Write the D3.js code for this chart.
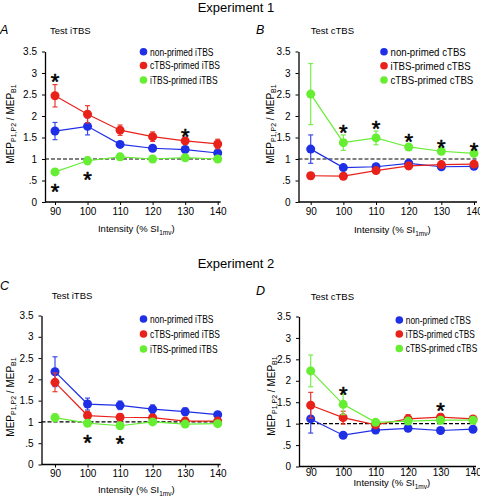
<!DOCTYPE html>
<html>
<head>
<meta charset="utf-8">
<script src="https://cdn.jsdelivr.net/npm/d3@7"></script>
<style>
  html, body { margin: 0; padding: 0; background: #fff; }
  svg { display: block; }
  text { font-family: "Liberation Sans", Arial, Helvetica, sans-serif; fill: #000; }
</style>
</head>
<body>
<svg id="chart" width="480" height="497"></svg>
<script>
// ---------------- DATA ----------------
const intensities = [90, 100, 110, 120, 130, 140];
const yTickValues = [0, 0.5, 1, 1.5, 2, 2.5, 3, 3.5];
const yTickLabels = ["0", ".5", "1", "1.5", "2", "2.5", "3", "3.5"];
const experimentTitles = ["Experiment 1", "Experiment 2"];
const panelLetters = ["A", "B", "C", "D"];
const panelSubtitles = ["Test iTBS", "Test cTBS", "Test iTBS", "Test cTBS"];
const legendITBS = ["non-primed iTBS", "cTBS-primed iTBS", "iTBS-primed iTBS"];
const legendCTBS = ["non-primed cTBS", "iTBS-primed cTBS", "cTBS-primed cTBS"];

// Panel A (Experiment 1, test iTBS)
const A_nonPrimed = [1.65, 1.76, 1.34, 1.25, 1.22, 1.14];
const A_nonPrimedErr = [0.20, 0.20, 0.05, 0.05, 0.05, 0.05];
const A_cPrimed = [2.47, 2.04, 1.67, 1.52, 1.42, 1.35];
const A_cPrimedErr = [0.26, 0.20, 0.12, 0.11, 0.08, 0.11];
const A_iPrimed = [0.70, 0.96, 1.05, 1.00, 1.03, 1.00];
const A_iPrimedErr = [0.07, 0.09, 0.08, 0.08, 0.07, 0.05];
const A_stars = [[90, 2.92], [90, 0.36], [100, 0.65], [130, 1.65]];

// Panel B (Experiment 1, test cTBS)
const B_nonPrimed = [1.23, 0.80, 0.82, 0.90, 0.82, 0.83];
const B_nonPrimedErr = [0.33, 0.03, 0.03, 0.04, 0.03, 0.03];
const B_iPrimed = [0.61, 0.60, 0.73, 0.84, 0.87, 0.88];
const B_iPrimedErr = [0.07, 0.06, 0.05, 0.08, 0.05, 0.04];
const B_cPrimed = [2.51, 1.38, 1.49, 1.28, 1.18, 1.13];
const B_cPrimedErr = [0.71, 0.18, 0.16, 0.05, 0.04, 0.03];
const B_stars = [[100, 1.73], [110, 1.83], [120, 1.53], [130, 1.38], [140, 1.32]];

// Panel C (Experiment 2, test iTBS)
const C_nonPrimed = [2.18, 1.42, 1.39, 1.30, 1.24, 1.17];
const C_nonPrimedErr = [0.35, 0.14, 0.10, 0.10, 0.09, 0.06];
const C_cPrimed = [1.93, 1.15, 1.11, 1.10, 1.02, 1.02];
const C_cPrimedErr = [0.22, 0.10, 0.08, 0.05, 0.03, 0.03];
const C_iPrimed = [1.10, 0.97, 0.91, 1.00, 0.95, 0.96];
const C_iPrimedErr = [0.09, 0.04, 0.04, 0.03, 0.03, 0.03];
const C_stars = [[100, 0.64], [110, 0.60]];

// Panel D (Experiment 2, test cTBS)
const D_nonPrimed = [1.11, 0.73, 0.85, 0.89, 0.84, 0.87];
const D_nonPrimedErr = [0.33, 0.03, 0.08, 0.04, 0.03, 0.03];
const D_iPrimed = [1.43, 1.14, 0.97, 1.11, 1.15, 1.11];
const D_iPrimedErr = [0.30, 0.15, 0.05, 0.10, 0.08, 0.04];
const D_cPrimed = [2.23, 1.45, 1.03, 1.06, 1.08, 1.08];
const D_cPrimedErr = [0.37, 0.24, 0.03, 0.05, 0.04, 0.03];
const D_stars = [[100, 1.80], [130, 1.42]];

// ---------------- STYLE / LAYOUT ----------------
const COLORS = ["#1f2fe6", "#e8221a", "#66ee33"];
const ERR_COLORS = ["#3a4ae8", "#ec3a30", "#77ee4a"];
const FONT = 10;

const panels = [
  { letter: panelLetters[0], sub: panelSubtitles[0], legend: legendITBS,
    series: [[A_nonPrimed, A_nonPrimedErr], [A_cPrimed, A_cPrimedErr], [A_iPrimed, A_iPrimedErr]], stars: A_stars,
    axisX: 45, x90: 55, x140: 217.7, y0: 202, y35: 51.5,
    letterPos: [0, 34], subPos: [50, 34], legX: 143.5, legY: [51.7, 65.5, 80], legSx: 0.77,
    ylabX: 13.5, ylabY: 124, xlabY: 232, xtickY: 215 },
  { letter: panelLetters[1], sub: panelSubtitles[1], legend: legendCTBS,
    series: [[B_nonPrimed, B_nonPrimedErr], [B_iPrimed, B_iPrimedErr], [B_cPrimed, B_cPrimedErr]], stars: B_stars,
    axisX: 298.5, x90: 310.7, x140: 474, y0: 202, y35: 51.5,
    letterPos: [256, 34], subPos: [310.7, 34], legX: 384, legY: [51.7, 65.7, 80], legSx: 0.88,
    ylabX: 273.5, ylabY: 124, xlabY: 233, xtickY: 215 },
  { letter: panelLetters[2], sub: panelSubtitles[2], legend: legendITBS,
    series: [[C_nonPrimed, C_nonPrimedErr], [C_cPrimed, C_cPrimedErr], [C_iPrimed, C_iPrimedErr]], stars: C_stars,
    axisX: 41.5, x90: 55, x140: 217.7, y0: 464.5, y35: 315.5,
    letterPos: [0, 290], subPos: [51.7, 299], legX: 143.5, legY: [319, 334, 349], legSx: 0.77,
    ylabX: 13.5, ylabY: 397, xlabY: 493, xtickY: 477 },
  { letter: panelLetters[3], sub: panelSubtitles[3], legend: legendCTBS,
    series: [[D_nonPrimed, D_nonPrimedErr], [D_iPrimed, D_iPrimedErr], [D_cPrimed, D_cPrimedErr]], stars: D_stars,
    axisX: 299, x90: 310.7, x140: 473, y0: 466.5, y35: 316.5,
    letterPos: [256, 295], subPos: [310.7, 300], legX: 399.3, legY: [320, 334, 348.5], legSx: 0.76,
    ylabX: 274.5, ylabY: 396, xlabY: 486, xtickY: 476 }
];

const svg = d3.select("#chart");

// Experiment titles
svg.append("text").attr("x", 236).attr("y", 12).attr("text-anchor", "middle")
  .attr("font-size", 13).text(experimentTitles[0]);
svg.append("text").attr("x", 236).attr("y", 268).attr("text-anchor", "middle")
  .attr("font-size", 13).text(experimentTitles[1]);

panels.forEach(p => {
  const g = svg.append("g");
  const x = d3.scaleLinear().domain([90, 140]).range([p.x90, p.x140]);
  const y = d3.scaleLinear().domain([0, 3.5]).range([p.y0, p.y35]);
  const axisRight = x(140) + 3;

  // Panel letter & subtitle
  g.append("text").attr("x", p.letterPos[0]).attr("y", p.letterPos[1])
    .attr("font-size", 12.5).attr("font-style", "italic").text(p.letter);
  g.append("text").attr("x", p.subPos[0]).attr("y", p.subPos[1])
    .attr("font-size", 9.5).text(p.sub);

  // Y axis
  const yAxis = d3.axisLeft(y).tickValues(yTickValues)
    .tickFormat((d, i) => yTickLabels[i]).tickSize(3).tickSizeOuter(0).tickPadding(5);
  const ya = g.append("g").attr("transform", `translate(${p.axisX},0)`).call(yAxis);
  ya.select(".domain").attr("stroke", "#000").attr("stroke-width", 1.3);
  ya.selectAll(".tick line").attr("stroke", "#000").attr("stroke-width", 1);
  ya.selectAll(".tick text").attr("font-size", FONT).attr("font-family", null);

  // X axis
  const xAxis = d3.axisBottom(x).tickValues(intensities).tickSize(3).tickSizeOuter(0).tickPadding(4);
  const xa = g.append("g").attr("transform", `translate(0,${p.y0})`).call(xAxis);
  xa.select(".domain").remove();
  xa.selectAll(".tick line").attr("stroke", "#000").attr("stroke-width", 1);
  xa.selectAll(".tick text").attr("font-size", FONT).attr("font-family", null)
    .attr("dy", null).attr("y", p.xtickY - p.y0);
  g.append("line").attr("x1", p.axisX).attr("x2", axisRight)
    .attr("y1", y(0)).attr("y2", y(0)).attr("stroke", "#000").attr("stroke-width", 1.3);

  // Dashed reference line at 1
  g.append("line").attr("x1", p.axisX).attr("x2", axisRight)
    .attr("y1", y(1)).attr("y2", y(1))
    .attr("stroke", "#000").attr("stroke-width", 1.2).attr("stroke-dasharray", "4,2");

  // Series
  p.series.forEach((s, si) => {
    const vals = s[0], errs = s[1];
    const pts = intensities.map((v, i) => ({ x: v, y: vals[i], e: errs[i] }));
    const sg = g.append("g");
    sg.append("path").datum(pts)
      .attr("d", d3.line().x(d => x(d.x)).y(d => y(d.y)))
      .attr("fill", "none").attr("stroke", COLORS[si]).attr("stroke-width", 1.2);
    const eb = sg.selectAll(".eb").data(pts).enter().append("g");
    eb.append("line").attr("x1", d => x(d.x)).attr("x2", d => x(d.x))
      .attr("y1", d => y(d.y + d.e)).attr("y2", d => y(d.y - d.e))
      .attr("stroke", ERR_COLORS[si]).attr("stroke-width", 1.2);
    eb.append("line").attr("x1", d => x(d.x) - 2.5).attr("x2", d => x(d.x) + 2.5)
      .attr("y1", d => y(d.y + d.e)).attr("y2", d => y(d.y + d.e))
      .attr("stroke", ERR_COLORS[si]).attr("stroke-width", 1.2);
    eb.append("line").attr("x1", d => x(d.x) - 2.5).attr("x2", d => x(d.x) + 2.5)
      .attr("y1", d => y(d.y - d.e)).attr("y2", d => y(d.y - d.e))
      .attr("stroke", ERR_COLORS[si]).attr("stroke-width", 1.2);
    sg.selectAll("circle").data(pts).enter().append("circle")
      .attr("cx", d => x(d.x)).attr("cy", d => y(d.y)).attr("r", 4.5)
      .attr("fill", COLORS[si]);
  });

  // Significance stars
  g.selectAll(".star").data(p.stars).enter().append("text")
    .attr("x", d => x(d[0])).attr("y", d => y(d[1]) + 12.5)
    .attr("text-anchor", "middle").attr("font-size", 22)
    .attr("stroke", "#000").attr("stroke-width", 0.6).text("*");

  // Legend
  p.legend.forEach((lab, li) => {
    g.append("circle").attr("cx", p.legX).attr("cy", p.legY[li]).attr("r", 3.8).attr("fill", COLORS[li]);
    g.append("text").attr("transform", `translate(${p.legX + 6.5},${p.legY[li] + 3.9}) scale(${p.legSx},1)`)
      .attr("font-size", 11).text(lab);
  });

  // Axis titles
  const yl = g.append("text")
    .attr("transform", `translate(${p.ylabX},${p.ylabY}) rotate(-90)`)
    .attr("text-anchor", "middle").attr("font-size", 10);
  yl.append("tspan").text("MEP");
  yl.append("tspan").attr("font-size", 7).attr("dy", 2.5).text("P1,P2");
  yl.append("tspan").attr("dy", -2.5).text(" / MEP");
  yl.append("tspan").attr("font-size", 7).attr("dy", 2.5).text("B1");

  const xl = g.append("text")
    .attr("x", (p.x90 + p.x140) / 2).attr("y", p.xlabY)
    .attr("text-anchor", "middle").attr("font-size", 9.5);
  xl.append("tspan").text("Intensity (% SI");
  xl.append("tspan").attr("font-size", 6.5).attr("dy", 2.5).text("1mv");
  xl.append("tspan").attr("dy", -2.5).text(")");
});
</script>
</body>
</html>
